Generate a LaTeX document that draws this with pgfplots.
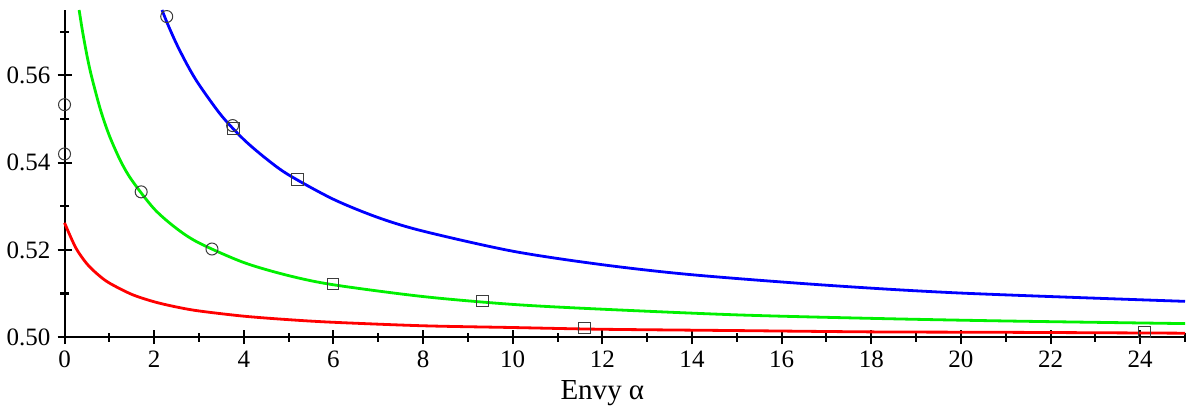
\documentclass[border=0pt]{standalone}
\usepackage{fontspec}
\setmainfont{Liberation Serif}
\usepackage{pgfplots}
\pgfplotsset{compat=1.18}
\usetikzlibrary{calc}
\definecolor{cRed}{RGB}{255,0,0}
\definecolor{cGreen}{RGB}{0,240,0}
\definecolor{cBlue}{RGB}{0,0,255}
\definecolor{cMark}{RGB}{60,60,60}

\begin{document}
\begin{tikzpicture}
\begin{axis}[
  scale only axis,
  width=560pt, height=163.5pt,
  xmin=0, xmax=25, ymin=0.50, ymax=0.575,
  axis lines=left,
  axis line style={-, line width=1pt},
  tick align=center,
  tick style={black, line width=1pt},
  major tick length=7pt,
  minor tick length=4.5pt,
  xtick={0,2,...,24},
  minor xtick={1,3,...,25},
  ytick={0.50,0.52,0.54,0.56},
  minor ytick={0.51,0.53,0.55,0.57},
  yticklabel style={/pgf/number format/.cd, fixed, fixed zerofill, precision=2},
  /pgf/number format/assume math mode=true,
  tick label style={font=\fontsize{12.5}{14}\selectfont},
  xlabel={Envy α},
  xlabel style={font=\fontsize{14.5}{17}\selectfont, at={(axis cs:12,0.5)}, anchor=north, yshift=-18pt},
  clip=false,
]
\coordinate (bl) at (rel axis cs:0,0);
\coordinate (tr) at (rel axis cs:1,1);
% red curve
\addplot[cRed, line width=1.4pt, smooth] coordinates {
  (0,0.5262)(0.25,0.5205)(0.5,0.5168)(0.75,0.5143)(1,0.5124)(1.5,0.5098)
  (2,0.5081)(2.5,0.5069)(3,0.5060)(4,0.5048)(5,0.5040)(6,0.5034)
  (8,0.5026)(10,0.5022)(12,0.5018)(15,0.5015)(18,0.5012)(21,0.5011)(25,0.5009)};
% green curve
\addplot[cGreen, line width=1.4pt, smooth] coordinates {
  (0.326,0.5750)(0.4,0.5702)(0.5,0.5646)(0.6,0.5599)(0.8,0.5522)(1,0.5462)
  (1.25,0.5404)(1.5,0.5360)(2,0.5294)(2.5,0.5249)(3,0.5216)(4,0.5171)
  (5,0.5141)(6,0.5120)(8,0.5093)(10,0.5075)(12,0.5064)(15,0.5051)
  (18,0.5043)(21,0.5037)(25,0.5031)};
% blue curve
\addplot[cBlue, line width=1.4pt, smooth] coordinates {
  (2.175,0.5750)(2.3,0.5718)(2.5,0.5672)(2.75,0.5622)(3,0.5579)(3.5,0.5508)
  (4,0.5453)(4.5,0.5409)(5,0.5372)(6,0.5316)(7,0.5274)(8,0.5243)
  (10,0.5197)(12,0.5166)(14,0.5143)(17,0.5119)(20,0.5101)(25,0.5082)};
% circles
\addplot[only marks, mark=o, mark size=3pt, mark options={cMark, line width=0.5pt}] coordinates {
  (0,0.5533)(0,0.5420)(1.71,0.5333)(3.29,0.5202)(2.28,0.5735)(3.75,0.5485)};
% squares
\addplot[only marks, mark=square, mark size=2.9pt, mark options={cMark, line width=0.5pt}] coordinates {
  (3.77,0.5478)(5.20,0.5362)(5.99,0.5122)(9.32,0.5083)(11.60,0.5021)(24.10,0.5012)};
\end{axis}
\pgfresetboundingbox
\path[use as bounding box] ($(bl)+(-32.25pt,-36.5pt)$) rectangle ($(tr)+(3.5pt,5pt)$);
\end{tikzpicture}
\end{document}
